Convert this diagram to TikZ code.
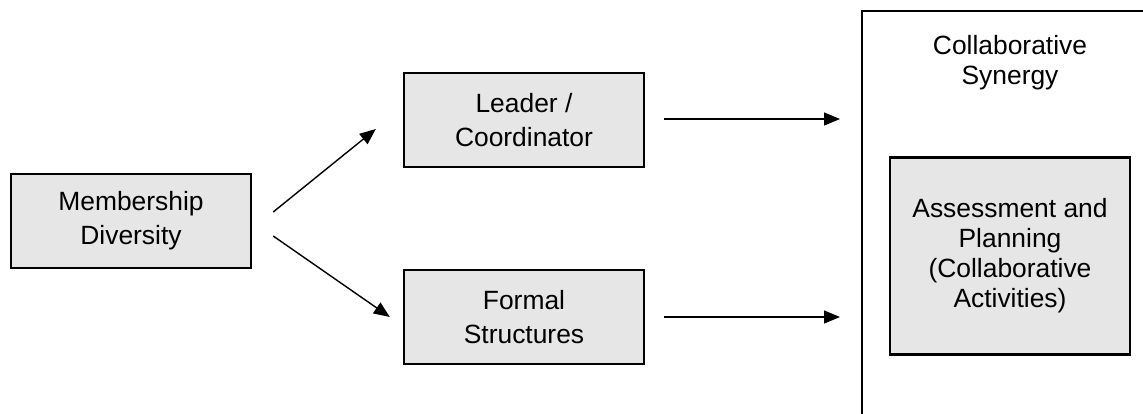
\documentclass[tikz,border=0pt]{standalone}
\usepackage{fontspec}
\setmainfont{Liberation Sans}
\usetikzlibrary{arrows.meta}
\definecolor{boxgray}{RGB}{230,230,230}
\begin{document}
\begin{tikzpicture}[x=1pt,y=-1pt,
  box/.style={draw=black, line width=2.4pt, fill=boxgray, minimum width=240pt,
    minimum height=94pt, align=center, inner sep=0pt,
    font=\fontsize{26.4}{34}\selectfont},
  txt/.style={align=center, inner sep=0pt, font=\fontsize{26.4}{30}\selectfont},
  frame/.style={line width=2.4pt},
  conn/.style={line width=1.4pt, -{Triangle[length=16pt,width=13pt]}}]
\useasboundingbox (0,0) rectangle (1143,413);
\node[box] (mem) at (131,221) {Membership\\Diversity};
\node[box] (lead) at (524,120) {Leader /\\Coordinator};
\node[box] (form) at (524,317) {Formal\\Structures};
% big frame (only left and top edges visible)
\coordinate (fbl) at (862,414);
\coordinate (ftr) at (1144,11);
\draw[frame] (fbl) |- (ftr);
\node[txt] (syn) at (1010,63) {Collaborative\\Synergy};
\node[box, minimum height=197pt, font=\fontsize{26.4}{30}\selectfont] (ap) at (1010,256)
  {Assessment and\\Planning\\(Collaborative\\Activities)};
% connectors
\coordinate (u1) at ([shift={(21,-9)}]mem.east);
\coordinate (u2) at ([shift={(-27,9)}]lead.west);
\coordinate (l1) at ([shift={(21,15)}]mem.east);
\coordinate (l2) at ([shift={(-13,0)}]form.west);
\coordinate (h1s) at ([shift={(19,-1)}]lead.east);
\coordinate (h1e) at ([shift={(-22,-1)}]fbl |- lead.east);
\coordinate (h2s) at ([shift={(19,0)}]form.east);
\coordinate (h2e) at ([shift={(-22,0)}]fbl |- form.east);
\draw[conn] (u1) -- (u2);
\draw[conn] (l1) -- (l2);
\draw[conn] (h1s) -- (h1e);
\draw[conn] (h2s) -- (h2e);
\end{tikzpicture}
\end{document}
